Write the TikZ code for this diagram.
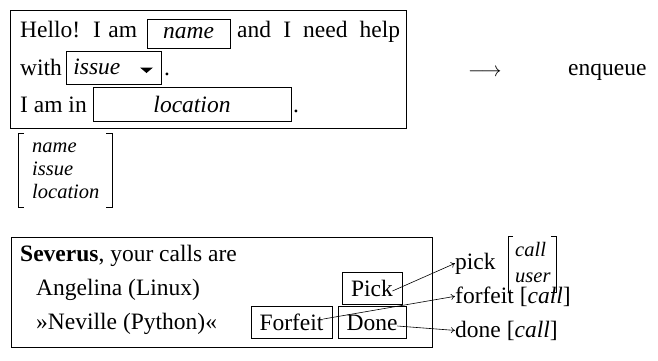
\documentclass[tikz,border=0pt]{standalone}
\usepackage{fontspec}
\setmainfont{Liberation Serif}
\usetikzlibrary{arrows.meta}
\begin{document}
\begin{tikzpicture}[x=1pt,y=-1pt,
  txt/.style={inner sep=0pt, anchor=base west, font=\fontsize{23.5}{28}\selectfont},
  sml/.style={inner sep=0pt, anchor=base west, font=\fontsize{20.5}{23}\selectfont\itshape},
  frame/.style={draw, line width=0.8pt, inner sep=0pt, anchor=north west},
  field/.style={draw, line width=0.8pt, inner ysep=0pt, anchor=base, font=\fontsize{23.5}{28}\selectfont},
  brk/.style={line width=0.8pt},
  conn/.style={-{To[length=4pt,width=6pt]}, line width=0.6pt}
]
\useasboundingbox (0,0) rectangle (658,360);
% top form
\node[frame, minimum width=396pt, minimum height=118pt] (form) at (10,10) {};
\node[txt] (hello) at (20,37) {\makebox[117pt][s]{Hello! I am}};
\node[field, minimum width=83pt, text height=19pt, text depth=10pt] (name) at (188.5,38) {\textit{name}};
\node[txt] (need) at (237,37) {\makebox[163pt][s]{and I need help}};
\node[txt] (with) at (20,75) {with};
\node[field, anchor=base west, inner xsep=7pt, text width=81pt, align=left, text height=23.5pt, text depth=9.5pt] (issue) at (66,74.5) {\textit{issue}};
\fill (140,67.5) -- (153,67.5) -- (146.5,73) -- cycle;
\node[txt] (dot1) at (164,75) {.};
\node[txt] (iamin) at (20,112) {I am in};
\node[field, minimum width=198pt, text height=25pt, text depth=9pt] (location) at (192,112) {\textit{location}};
\node[txt] (dot2) at (293,112) {.};
% field list
\node[sml] (fname) at (32,152) {name};
\node[sml] (fissue) at (32,175) {issue};
\node[sml] (floc) at (32,198) {location};
\draw[brk] (24,133) -- (18,133) -- (18,207) -- (24,207);
\draw[brk] (106,133) -- (112,133) -- (112,207) -- (106,207);
% enqueue
\node[txt, font=\fontsize{22}{26}\selectfont] (arr) at (468,76) {$\longrightarrow$};
\node[txt] (enqueue) at (568,75) {enqueue};
% bottom panel
\node[frame, minimum width=421pt, minimum height=110pt] (panel) at (11,237) {};
\node[txt] (sev) at (20,261) {\textbf{Severus}, your calls are};
\node[txt] (ang) at (36,295) {Angelina (Linux)};
\node[txt] (nev) at (36,329) {»Neville (Python)«};
\node[field, minimum width=60pt, text height=24pt, text depth=8pt] (pick) at (372,296) {Pick};
\node[field, minimum width=81pt, text height=24pt, text depth=8pt] (forfeit) at (291.5,330) {Forfeit};
\node[field, minimum width=68pt, text height=24pt, text depth=8pt] (done) at (372,330) {Done};
% actions
\node[txt] (pickl) at (455,269) {pick};
\node[sml] (pcall) at (515,256) {call};
\node[sml] (puser) at (515,282) {user};
\draw[brk] (513,236) -- (508,236) -- (508,292) -- (513,292);
\draw[brk] (551,236) -- (556,236) -- (556,292) -- (551,292);
\node[txt] (forfeitl) at (455,303) {forfeit [\textit{call}]};
\node[txt] (donel) at (455,337) {done [\textit{call}]};
\draw[conn] ([xshift=-10pt,yshift=-3pt]pick.east) -- (pickl.west);
\draw[conn] ([xshift=-9pt,yshift=3pt]forfeit.east) -- (forfeitl.west);
\draw[conn] ([xshift=-9pt,yshift=-4pt]done.east) -- (donel.west);
\end{tikzpicture}
\end{document}
